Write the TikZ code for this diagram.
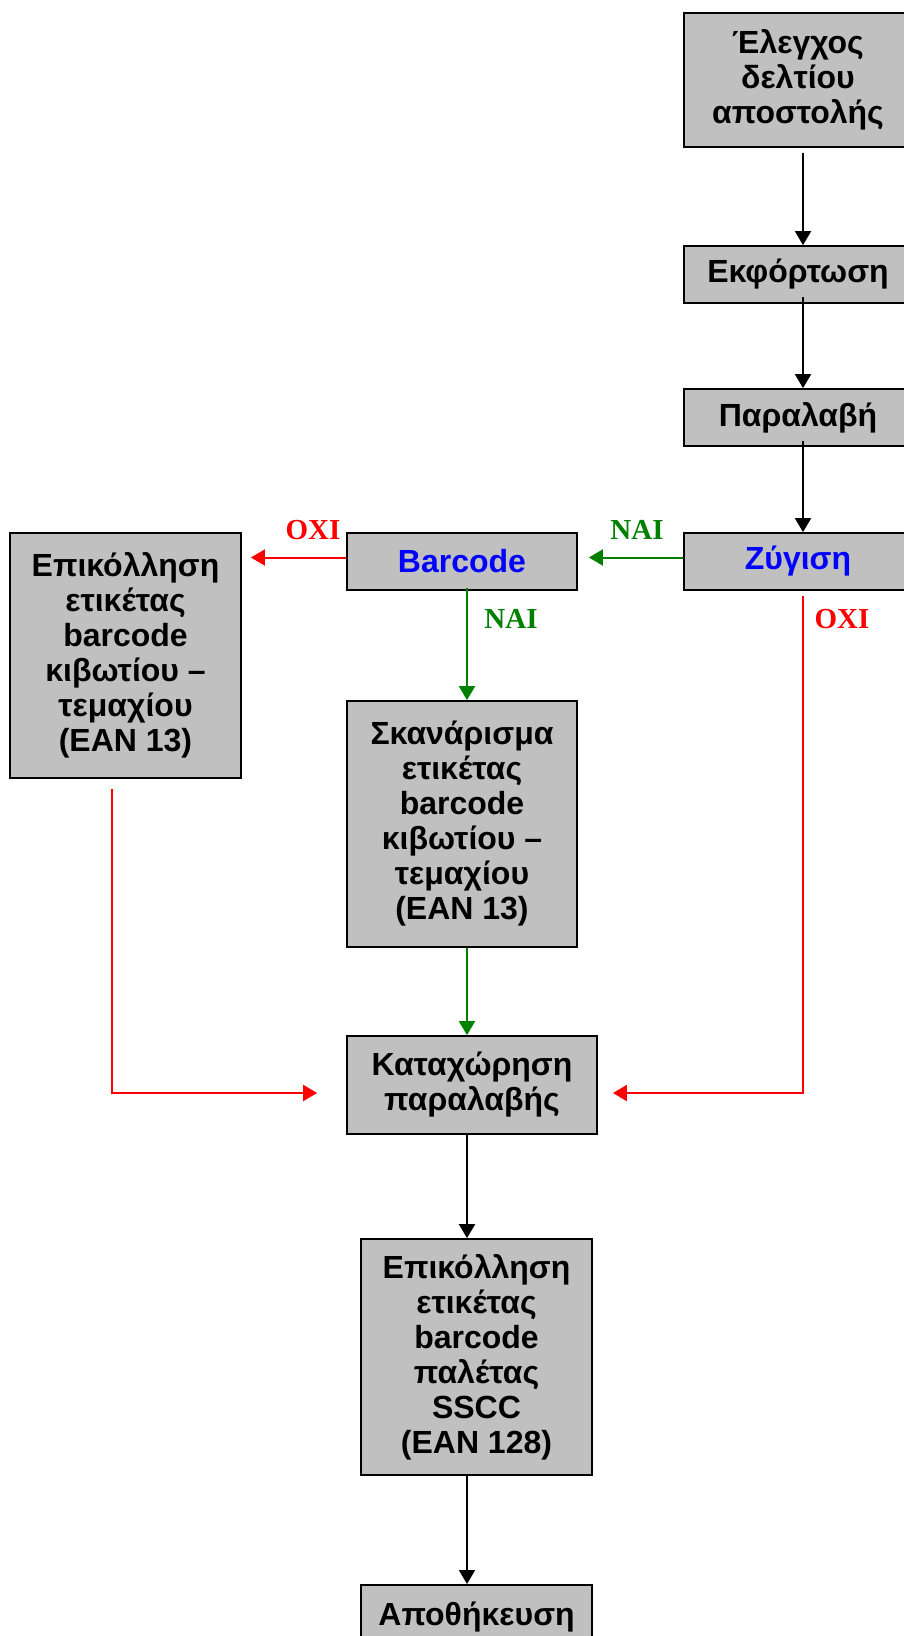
\documentclass[tikz,border=0pt]{standalone}
\usepackage{fontspec}
\setmainfont{Liberation Sans}
\newfontfamily\lblfont{Liberation Serif}
\usetikzlibrary{arrows.meta,calc}
\definecolor{boxgray}{HTML}{C0C0C0}
\definecolor{dgreen}{HTML}{008000}
\definecolor{pblue}{HTML}{0000FF}
\definecolor{pred}{HTML}{FF0000}
\begin{document}
\begin{tikzpicture}[x=1pt,y=-1pt,
  box/.style={draw=black, line width=1.8pt, fill=boxgray, align=center,
    font=\fontsize{32}{35}\selectfont\bfseries, inner sep=0pt},
  arr/.style={line width=2pt, -{Triangle[length=14pt,width=16pt]}},
  lbl/.style={font=\lblfont\fontsize{29}{30}\selectfont\bfseries, inner sep=0pt}]
\useasboundingbox (0,0) rectangle (904,1636);
% boxes
\node[box, minimum width=228pt, minimum height=134pt] (b1) at (798,80) {Έλεγχος\\δελτίου\\αποστολής};
\node[box, minimum width=228pt, minimum height=57pt] (b2) at (798,274.5) {Εκφόρτωση};
\node[box, minimum width=228pt, minimum height=57pt] (b3) at (798,417.5) {Παραλαβή};
\node[box, minimum width=228pt, minimum height=57pt, text=pblue] (b4) at (798,561.5) {Ζύγιση};
\node[box, minimum width=230pt, minimum height=57pt, text=pblue] (bar) at (462,561.5) {Barcode};
\node[box, minimum width=231pt, minimum height=245pt] (left) at (125.5,655.5) {Επικόλληση\\ετικέτας\\barcode\\κιβωτίου –\\τεμαχίου\\(EAN 13)};
\node[box, minimum width=230pt, minimum height=246pt] (scan) at (462,824) {Σκανάρισμα\\ετικέτας\\barcode\\κιβωτίου –\\τεμαχίου\\(EAN 13)};
\node[box, minimum width=250pt, minimum height=98pt] (kat) at (472,1085) {Καταχώρηση\\παραλαβής};
\node[box, minimum width=231pt, minimum height=236pt] (pal) at (476.5,1357) {Επικόλληση\\ετικέτας\\barcode\\παλέτας\\SSCC\\(EAN 128)};
\node[box, minimum width=231pt, anchor=north, text height=37pt, text depth=20pt, inner ysep=4pt] (apo) at (476.5,1584) {Αποθήκευση};
% helper coordinates
\coordinate (rc) at (803,0);
\coordinate (mc) at (467,0);
\coordinate (lc) at (112,0);
\coordinate (hy) at (0,1093);
% black connectors
\draw[arr] ($(b1.south -| rc)+(0,5)$) -- (b2.north -| rc);
\draw[arr] ($(b2.south -| rc)+(0,-7)$) -- (b3.north -| rc);
\draw[arr] ($(b3.south -| rc)+(0,-6)$) -- (b4.north -| rc);
\draw[arr] (kat.south -| mc) -- (pal.north -| mc);
\draw[arr] (pal.south -| mc) -- (apo.north -| mc);
% green connectors
\draw[arr, dgreen] ($(b4.west)+(0,-4)$) -- ($(bar.east)+(11,-4)$);
\draw[arr, dgreen] ($(bar.south -| mc)+(0,-3)$) -- (scan.north -| mc);
\draw[arr, dgreen] (scan.south -| mc) -- (kat.north -| mc);
% red connectors
\draw[arr, pred] ($(bar.west)+(0,-4)$) -- ($(left.east |- bar.west)+(9,-4)$);
\draw[arr, pred] ($(b4.south -| rc)+(0,5)$) -- (rc |- hy) -- ($(kat.east |- hy)+(15,0)$);
\draw[arr, pred] ($(left.south -| lc)+(0,10)$) -- (lc |- hy) -- ($(kat.west |- hy)+(-29,0)$);
% labels
\node[lbl, text=pred] (oxi1) at (313,530) {ΟΧΙ};
\node[lbl, text=dgreen] (nai1) at (637,530) {ΝΑΙ};
\node[lbl, text=dgreen] (nai2) at (511,619) {ΝΑΙ};
\node[lbl, text=pred] (oxi2) at (842,619) {ΟΧΙ};
\end{tikzpicture}
\end{document}
